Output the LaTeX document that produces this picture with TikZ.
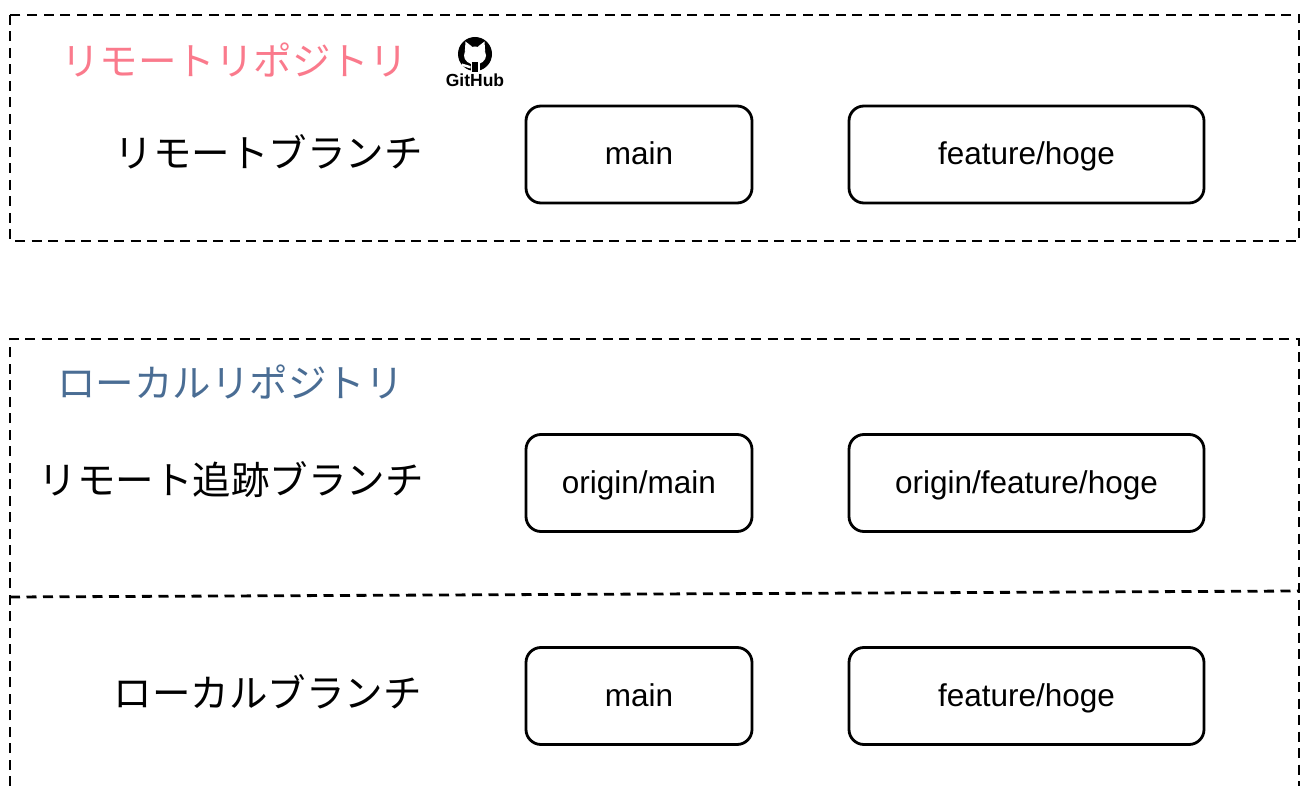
\documentclass[tikz,border=0pt]{standalone}
\usepackage{fontspec}
\setmainfont{Liberation Sans}
\newfontfamily\jpfont{Noto Sans CJK JP}
\definecolor{remotepink}{HTML}{FA7A8C}
\definecolor{localblue}{HTML}{4A6D94}
\begin{document}
\begin{tikzpicture}[x=1pt,y=-1pt,
  dashbox/.style={line width=2.8pt, dash pattern=on 10pt off 6.5pt},
  branchbox/.style={draw, line width=2.8pt, rounded corners=15pt, inner sep=0pt,
    minimum height=97pt, text height=27pt, text depth=6pt,
    font=\fontsize{31.5}{34}\selectfont},
  smallbox/.style={branchbox, minimum width=226pt},
  widebox/.style={branchbox, minimum width=355pt},
  rowlabel/.style={anchor=east, inner sep=0pt, font=\jpfont\fontsize{38.5}{42}\selectfont},
  title/.style={anchor=west, inner sep=0pt, font=\jpfont\fontsize{38.5}{42}\selectfont}]
\useasboundingbox (0,0) rectangle (1304,786);
% remote repository frame
\draw[dashbox] (10,15) rectangle (1299,241);
% local repository frame
\draw[dashbox] (10,786) -- (10,339) -- (1299,339) -- (1299,786);
\coordinate (divL) at (10,597);
\coordinate (divR) at (1299,591);
\draw[dashbox] (divL) -- (divR);
% titles
\node[title, text=remotepink] (rtitle) at (61,60) {リモートリポジトリ};
\node[title, text=localblue] (ltitle) at (57,382) {ローカルリポジトリ};
% GitHub logo
\fill[black] (475,54) circle (17);
\fill[white] (475,55.5) ellipse (11 and 9);
\fill[white] (464.8,52) -- (465.5,41.5) -- (472,46.5) -- cycle;
\fill[white] (485.2,52) -- (484.5,41.5) -- (478,46.5) -- cycle;
\fill[white] (470.5,62) rectangle (479.5,72);
\fill[black] (472.3,62.5) rectangle (477.7,72);
\fill[white] (462,63.5) -- (470.5,66) -- (470.5,68.5) -- (462,66) -- cycle;
\node[inner sep=0pt, font=\bfseries\fontsize{17.5}{18}\selectfont] (ghtext) at (475,80) {GitHub};
% row labels
\node[rowlabel] (lremote) at (423,152) {リモートブランチ};
\node[rowlabel] (ltrack) at (424,480) {リモート追跡ブランチ};
\node[rowlabel] (llocal) at (422,692) {ローカルブランチ};
% branch boxes
\node[smallbox] (rmain) at (639,154.5) {main};
\node[widebox] (rfeat) at (1026.5,154.5) {feature/hoge};
\node[smallbox] (tmain) at (639,483) {origin/main};
\node[widebox] (tfeat) at (1026.5,483) {origin/feature/hoge};
\node[smallbox] (lmain) at (639,696) {main};
\node[widebox] (lfeat) at (1026.5,696) {feature/hoge};
\end{tikzpicture}
\end{document}
